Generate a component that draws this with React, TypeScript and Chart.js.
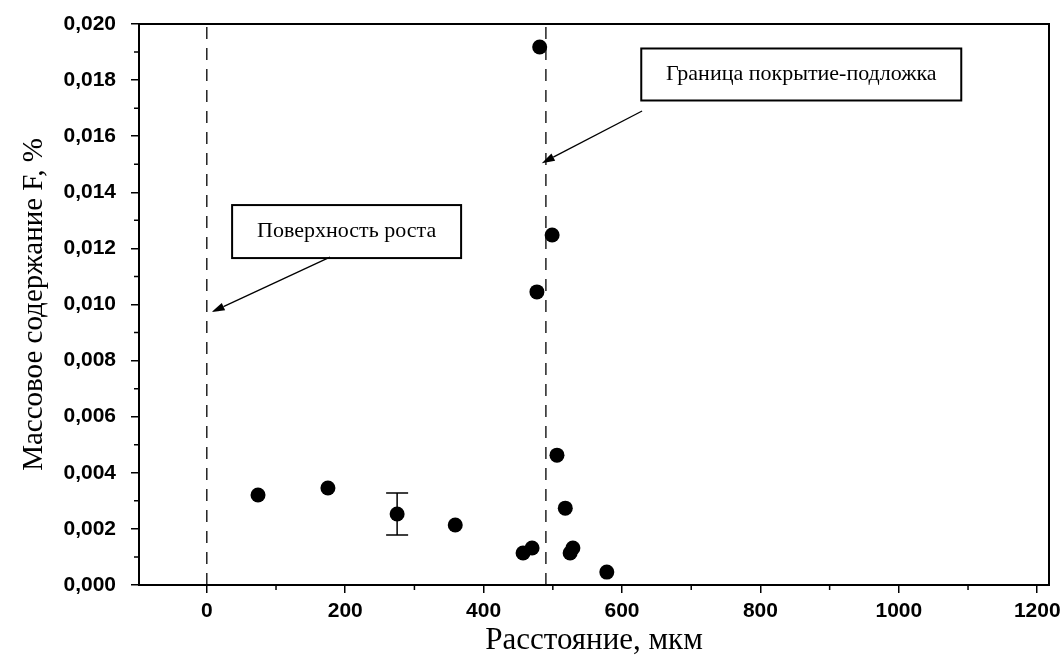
import React, { useEffect, useRef } from "react";
import { Chart, registerables } from "chart.js";

Chart.register(...registerables);

// ---- data ----
const distance = [74, 175, 275, 359, 457, 470, 477, 481, 499, 506, 518, 525, 529, 578];
const fluorine = [0.00321, 0.00346, 0.00253, 0.00214, 0.00114, 0.00132, 0.01045, 0.01918, 0.01248, 0.00463, 0.00274, 0.00114, 0.00132, 0.00046];

const errorX = [275];
const errorLow = [0.00178];
const errorHigh = [0.00328];

const markerLinesX = [0, 490];

const xMajorTicks = [0, 200, 400, 600, 800, 1000, 1200];
const xMinorTicks = [-100, 100, 300, 500, 700, 900, 1100];
const yMajorTicks = [0, 0.002, 0.004, 0.006, 0.008, 0.01, 0.012, 0.014, 0.016, 0.018, 0.02];
const yMinorTicks = [0.001, 0.003, 0.005, 0.007, 0.009, 0.011, 0.013, 0.015, 0.017, 0.019];

const xTitle = "Расстояние, мкм";
const yTitle = "Массовое содержание F, %";

const annotations = [
  { text: "Поверхность роста", boxX: 202, boxY: 0.0126, w: 229, h: 53, fromX: 178, fromY: 0.01169, toX: 7, toY: 0.00973 },
  { text: "Граница покрытие-подложка", boxX: 859, boxY: 0.0182, w: 320, h: 52, fromX: 629, fromY: 0.0169, toX: 484, toY: 0.01504 },
];

const SERIF = "'Liberation Serif', 'Times New Roman', serif";
const SANS = "'Liberation Sans', Arial, sans-serif";

const decorPlugin = {
  id: "decor",
  afterDatasetsDraw(chart: any) {
    const { ctx, chartArea, scales } = chart;
    const xs = scales.x;
    const ys = scales.y;
    ctx.save();
    // minor ticks
    ctx.strokeStyle = "#000";
    ctx.lineWidth = 1.5;
    ctx.beginPath();
    xMinorTicks.forEach((v) => {
      const px = xs.getPixelForValue(v);
      if (px < chartArea.left || px > chartArea.right) return;
      ctx.moveTo(px, chartArea.bottom);
      ctx.lineTo(px, chartArea.bottom + 5);
    });
    yMinorTicks.forEach((v) => {
      const py = ys.getPixelForValue(v);
      ctx.moveTo(chartArea.left, py);
      ctx.lineTo(chartArea.left - 5, py);
    });
    ctx.stroke();

    // frame
    ctx.lineWidth = 2;
    ctx.strokeRect(chartArea.left, chartArea.top, chartArea.right - chartArea.left, chartArea.bottom - chartArea.top);

    // error bars
    ctx.lineWidth = 1.5;
    errorX.forEach((xv, i) => {
      const px = xs.getPixelForValue(xv);
      const lo = ys.getPixelForValue(errorLow[i]);
      const hi = ys.getPixelForValue(errorHigh[i]);
      ctx.beginPath();
      ctx.moveTo(px, lo);
      ctx.lineTo(px, hi);
      ctx.moveTo(px - 11, lo);
      ctx.lineTo(px + 11, lo);
      ctx.moveTo(px - 11, hi);
      ctx.lineTo(px + 11, hi);
      ctx.stroke();
    });

    // annotations
    annotations.forEach((a) => {
      const cx = xs.getPixelForValue(a.boxX);
      const cy = ys.getPixelForValue(a.boxY);
      ctx.fillStyle = "#fff";
      ctx.fillRect(cx - a.w / 2, cy - a.h / 2, a.w, a.h);
      ctx.lineWidth = 2;
      ctx.strokeStyle = "#000";
      ctx.strokeRect(cx - a.w / 2, cy - a.h / 2, a.w, a.h);
      ctx.fillStyle = "#000";
      ctx.font = `22px ${SERIF}`;
      ctx.textAlign = "center";
      ctx.textBaseline = "middle";
      ctx.fillText(a.text, cx, cy);

      const x1 = xs.getPixelForValue(a.fromX);
      const y1 = ys.getPixelForValue(a.fromY);
      const x2 = xs.getPixelForValue(a.toX);
      const y2 = ys.getPixelForValue(a.toY);
      const ang = Math.atan2(y2 - y1, x2 - x1);
      const len = 13;
      const half = 4;
      const bx = x2 - len * Math.cos(ang);
      const by = y2 - len * Math.sin(ang);
      ctx.lineWidth = 1.3;
      ctx.beginPath();
      ctx.moveTo(x1, y1);
      ctx.lineTo(bx, by);
      ctx.stroke();
      ctx.beginPath();
      ctx.moveTo(x2, y2);
      ctx.lineTo(bx + half * Math.sin(ang), by - half * Math.cos(ang));
      ctx.lineTo(bx - half * Math.sin(ang), by + half * Math.cos(ang));
      ctx.closePath();
      ctx.fill();
    });
    ctx.restore();
  },
};

export default function App() {
  const ref = useRef<HTMLCanvasElement | null>(null);

  useEffect(() => {
    if (!ref.current) return;
    const lineSets = markerLinesX.map((xv) => ({
      type: "line" as const,
      data: [
        { x: xv, y: 0 },
        { x: xv, y: 0.02 },
      ],
      borderColor: "#000",
      borderWidth: 1.3,
      borderDash: [12, 9],
      pointRadius: 0,
      showLine: true,
      fill: false,
    }));
    const chart = new Chart(ref.current, {
      type: "scatter",
      data: {
        datasets: [
          ...lineSets,
          {
            type: "scatter",
            data: distance.map((x, i) => ({ x, y: fluorine[i] })),
            backgroundColor: "#000",
            borderColor: "#000",
            pointRadius: 7.5,
            pointBorderWidth: 0,
          },
        ] as any,
      },
      plugins: [decorPlugin],
      options: {
        responsive: false,
        animation: false,
        layout: { padding: { left: 0, top: 24, right: 14, bottom: 0 } },
        plugins: { legend: { display: false }, tooltip: { enabled: false } },
        scales: {
          x: {
            type: "linear",
            min: -98,
            max: 1217,
            afterBuildTicks: (s: any) => {
              s.ticks = xMajorTicks.map((v) => ({ value: v }));
            },
            afterFit: (s: any) => {
              s.height = 78;
              s.paddingLeft = 0;
              s.paddingRight = 0;
            },
            grid: { display: true, drawOnChartArea: false, drawTicks: true, tickLength: 8, color: "#000", lineWidth: 1.5 },
            border: { display: true, color: "#000", width: 2 },
            ticks: {
              color: "#000",
              padding: 6,
              maxRotation: 0,
              font: { family: SANS, size: 21, weight: "bold" },
              callback: (v: any) => String(v),
            },
            title: {
              display: true,
              text: xTitle,
              color: "#000",
              font: { family: SERIF, size: 31 },
              padding: { top: 0, bottom: 4 },
            },
          },
          y: {
            type: "linear",
            min: 0,
            max: 0.02,
            afterBuildTicks: (s: any) => {
              s.ticks = yMajorTicks.map((v) => ({ value: v }));
            },
            afterFit: (s: any) => {
              s.width = 139;
              s.paddingTop = 0;
              s.paddingBottom = 0;
            },
            grid: { display: true, drawOnChartArea: false, drawTicks: true, tickLength: 8, color: "#000", lineWidth: 1.5 },
            border: { display: true, color: "#000", width: 2 },
            ticks: {
              color: "#000",
              padding: 15,
              font: { family: SANS, size: 21, weight: "bold" },
              callback: (v: any) => Number(v).toFixed(3).replace(".", ","),
            },
            title: {
              display: true,
              text: yTitle,
              color: "#000",
              font: { family: SERIF, size: 29 },
              padding: { top: 17, bottom: 0 },
            },
          },
        },
      } as any,
    });
    return () => chart.destroy();
  }, []);

  return (
    <div style={{ position: "absolute", left: 0, top: 0, width: 1063, height: 663, background: "#fff" }}>
      <canvas ref={ref} width={1063} height={663} style={{ display: "block" }} />
    </div>
  );
}
